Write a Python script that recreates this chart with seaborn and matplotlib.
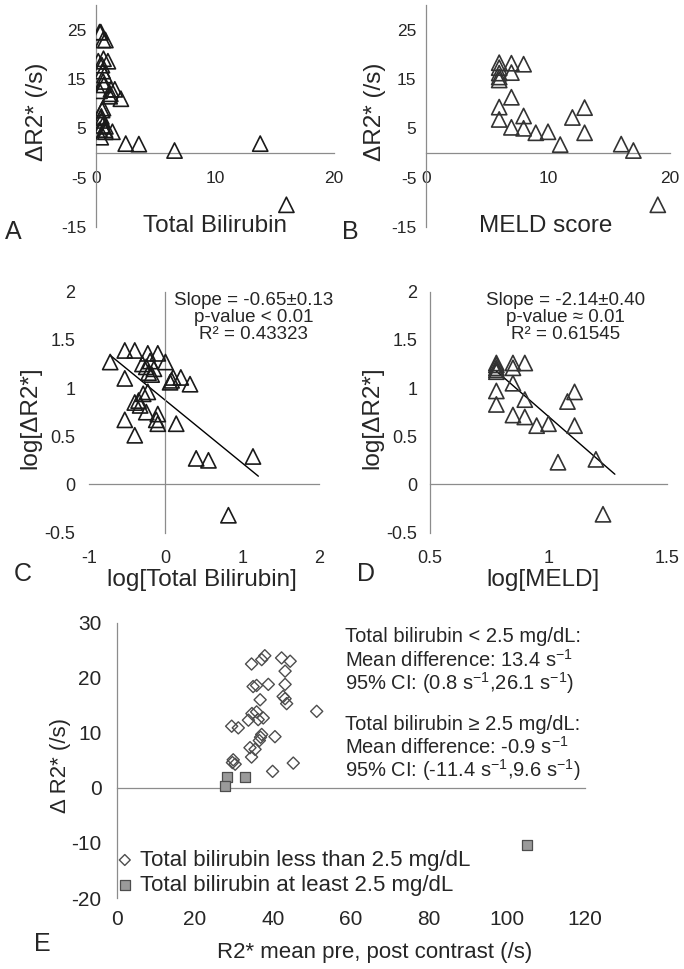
import numpy as np
import matplotlib
matplotlib.use("Agg")
import matplotlib.pyplot as plt
import seaborn as sns

# panel A: total bilirubin vs delta R2*
bili_a = [0.19, 0.30, 0.40, 0.59, 0.79, 0.50, 0.56, 0.63, 0.60, 1.00, 0.30, 1.26, 1.15, 1.58, 2.09,
          0.40, 0.51, 0.59, 0.47, 0.30, 0.56, 0.79, 0.79, 1.38, 0.40, 2.5, 3.6, 13.8, 6.6,
          0.71, 0.66, 0.45, 0.76, 1.20, 16.0]
dr2_a = [18.6, 24.5, 24.5, 22.9, 22.9, 17.8, 16.6, 19.1, 14.5, 18.6, 12.6, 12.9, 11.5, 12.9, 11.0,
         7.1, 8.7, 9.1, 6.6, 4.7, 5.6, 5.4, 4.3, 4.3, 3.2, 1.9, 1.8, 1.9, 0.5,
         15.8, 13.8, 7.4, 4.7, 12.0, -10.5]

# panel B: MELD score vs delta R2*
meld_b = [6, 6, 6, 6, 6, 7, 8, 7, 7, 6, 6, 7, 8, 8, 9, 10, 11, 12, 13, 13, 16, 17, 19]
dr2_b = [18.3, 17.3, 16.2, 15.4, 14.8, 18.2, 18.0, 16.3, 11.3, 9.3, 6.8, 5.2, 7.5, 5.0, 4.1, 4.3,
         1.7, 7.2, 9.2, 4.1, 1.8, 0.5, -10.5]

# panel C: log-log total bilirubin
logbili_c = [-0.72, -0.53, -0.40, -0.23, -0.10, -0.30, -0.25, -0.20, -0.22, 0.00, -0.53, 0.10, 0.06,
             0.20, 0.32, -0.40, -0.29, -0.23, -0.33, -0.53, -0.25, -0.10, -0.10, 0.14, -0.40, 0.40,
             0.56, 1.14, 0.82, -0.15, -0.18, -0.35, -0.12, 0.08]
logdr2_c = [1.27, 1.39, 1.39, 1.36, 1.36, 1.25, 1.22, 1.28, 1.16, 1.27, 1.10, 1.11, 1.06, 1.11, 1.04,
            0.85, 0.94, 0.96, 0.82, 0.67, 0.75, 0.73, 0.63, 0.63, 0.51, 0.27, 0.25, 0.29, -0.32,
            1.20, 1.14, 0.87, 0.67, 1.08]
fit_c = (-0.65, 0.872)  # slope, intercept

# panel D: log-log MELD
logmeld_d = [0.78, 0.78, 0.78, 0.78, 0.78, 0.85, 0.90, 0.85, 0.85, 0.78, 0.78, 0.85, 0.90, 0.90,
             0.95, 1.00, 1.04, 1.08, 1.11, 1.11, 1.20, 1.23]
logdr2_d = [1.26, 1.24, 1.21, 1.19, 1.17, 1.26, 1.26, 1.21, 1.05, 0.97, 0.83, 0.72, 0.88, 0.70,
            0.61, 0.63, 0.23, 0.86, 0.96, 0.61, 0.26, -0.31]
fit_d = (-2.14, 2.845)

# panel E: difference vs mean R2*
low_x = [34.5, 37.1, 37.9, 42.2, 44.4, 43.1, 34.9, 35.8, 38.8, 43.1, 36.7, 42.6, 43.1, 43.5, 51.2,
         35.8, 37.5, 36.2, 33.7, 29.4, 31.1, 37.1, 40.5, 36.5, 34.1, 35.4, 34.5, 29.8, 30.3, 45.2,
         39.9, 29.6, 36.8, 34.6]
low_y = [22.5, 23.3, 24.0, 23.6, 23.0, 21.2, 18.4, 18.6, 18.8, 18.8, 16.0, 16.6, 16.2, 15.3, 13.9,
         13.8, 12.7, 12.4, 12.3, 11.2, 10.9, 9.7, 9.3, 8.6, 7.3, 7.0, 5.6, 5.1, 4.3, 4.5,
         3.0, 4.6, 9.2, 13.5]
high_x = [28.1, 27.7, 32.8, 105.0]
high_y = [2.0, 0.4, 1.9, -10.3]

s1 = r"s$^{\mathregular{-1}}$"
info_lines = ["Total bilirubin < 2.5 mg/dL:",
              f"Mean difference: 13.4 {s1}",
              f"95% CI: (0.8 {s1},26.1 {s1})",
              "Total bilirubin ≥ 2.5 mg/dL:",
              f"Mean difference: -0.9 {s1}",
              f"95% CI: (-11.4 {s1},9.6 {s1})"]

sns.set_style("white")
plt.rcParams["font.family"] = ["Liberation Sans", "DejaVu Sans"]
plt.rcParams["mathtext.fontset"] = "custom"
plt.rcParams["mathtext.rm"] = "Liberation Sans"
plt.rcParams["axes.unicode_minus"] = False

TXT = "#262626"
AX = "#8c8c8c"
W, H = 684, 969

fig = plt.figure(figsize=(6.84, 9.69), dpi=100)


def make_axes(left, top, right, bottom):
    return fig.add_axes([left / W, 1 - bottom / H, (right - left) / W, (bottom - top) / H])


def style(ax, xspine, yspine, xpad, ypad, fs=12.5):
    ax.spines["top"].set_visible(False)
    ax.spines["right"].set_visible(False)
    for s in ("left", "bottom"):
        ax.spines[s].set_color(AX)
        ax.spines[s].set_linewidth(0.9)
    ax.spines["bottom"].set_position(("data", xspine))
    ax.spines["left"].set_position(("data", yspine))
    ax.tick_params(axis="both", direction="out", length=4, width=0.9, color=AX,
                   labelsize=fs, labelcolor=TXT)
    ax.tick_params(axis="x", pad=xpad)
    ax.tick_params(axis="y", pad=ypad)
    ax.set_xlabel("")
    ax.set_ylabel("")


def tri(ax, x, y, ec="#1a1a1a"):
    sns.scatterplot(x=x, y=y, ax=ax, marker="^", s=120, color="none",
                    edgecolor=ec, linewidth=1.2, zorder=3)


def set_labels(ax, xl, yl, xpos, ypos, fs=17.5):
    ax.set_xlabel(xl, fontsize=fs, color=TXT)
    ax.set_ylabel(yl, fontsize=fs, color=TXT)
    ax.xaxis.set_label_coords(*xpos)
    ax.yaxis.set_label_coords(*ypos)
    ax.yaxis.label.set_verticalalignment("center")


# ---- A ----
axA = make_axes(96, 5, 334, 227)
tri(axA, bili_a, dr2_a)
axA.set_xlim(0, 20)
axA.set_ylim(-15, 30)
axA.set_xticks([0, 10, 20])
axA.set_yticks([-15, -5, 5, 15, 25])
style(axA, 0, 0, 9, 3)
set_labels(axA, "Total Bilirubin", "ΔR2* (/s)", (0.5, 0.055), (-0.25, 0.52))

# ---- B ----
axB = make_axes(426, 5, 670, 227)
tri(axB, meld_b, dr2_b, ec="#333333")
axB.set_xlim(0, 20)
axB.set_ylim(-15, 30)
axB.set_xticks([0, 10, 20])
axB.set_yticks([-15, -5, 5, 15, 25])
style(axB, 0, 0, 9, 3)
set_labels(axB, "MELD score", "ΔR2* (/s)", (0.49, 0.055), (-0.21, 0.52))

# ---- C ----
axC = make_axes(88.7, 291.7, 319, 532.6)
tri(axC, logbili_c, logdr2_c)
xs = np.array([min(logbili_c), max(logbili_c) + 0.07])
axC.plot(xs, fit_c[1] + fit_c[0] * xs, color="black", lw=1, zorder=2)
axC.set_xlim(-1, 2)
axC.set_ylim(-0.5, 2)
axC.set_xticks([-1, 0, 1, 2])
axC.set_yticks([-0.5, 0, 0.5, 1, 1.5, 2])
axC.set_yticklabels(["-0.5", "0", "0.5", "1", "1.5", "2"])
style(axC, 0, 0, 43, 61, fs=13)
set_labels(axC, "log[Total Bilirubin]", "log[ΔR2*]", (0.49, -0.152), (-0.255, 0.476))
axC.text(0.715, 1.0, "Slope = -0.65±0.13\np-value < 0.01\nR² = 0.43323",
         transform=axC.transAxes, ha="center", va="top", fontsize=13.5, color=TXT,
         linespacing=1.02)

# ---- D ----
axD = make_axes(430, 291.7, 667, 532.6)
tri(axD, logmeld_d, logdr2_d, ec="#333333")
xs = np.array([min(logmeld_d), max(logmeld_d) + 0.05])
axD.plot(xs, fit_d[1] + fit_d[0] * xs, color="black", lw=1, zorder=2)
axD.set_xlim(0.5, 1.5)
axD.set_ylim(-0.5, 2)
axD.set_xticks([0.5, 1, 1.5])
axD.set_xticklabels(["0.5", "1", "1.5"])
axD.set_yticks([-0.5, 0, 0.5, 1, 1.5, 2])
axD.set_yticklabels(["-0.5", "0", "0.5", "1", "1.5", "2"])
style(axD, 0, 0.5, 43, 5, fs=13)
set_labels(axD, "log[MELD]", "log[ΔR2*]", (0.475, -0.152), (-0.245, 0.476))
axD.text(0.57, 1.0, "Slope = -2.14±0.40\np-value ≈ 0.01\nR² = 0.61545",
         transform=axD.transAxes, ha="center", va="top", fontsize=13.5, color=TXT,
         linespacing=1.02)

# ---- E ----
axE = make_axes(117, 622.7, 585, 898)
sns.scatterplot(x=low_x, y=low_y, ax=axE, marker="D", s=38, color="none",
                edgecolor="#4d4d4d", linewidth=1.0, zorder=3,
                label="Total bilirubin less than 2.5 mg/dL")
sns.scatterplot(x=high_x, y=high_y, ax=axE, marker="s", s=60, color="#9a9a9a",
                edgecolor="#4d4d4d", linewidth=0.9, zorder=4,
                label="Total bilirubin at least 2.5 mg/dL")
axE.set_xlim(0, 120)
axE.set_ylim(-20, 30)
axE.set_xticks(range(0, 121, 20))
axE.set_yticks(range(-20, 31, 10))
style(axE, 0, 0, 84, 7, fs=15)
set_labels(axE, "R2* mean pre, post contrast (/s)", "Δ R2* (/s)", (0.55, -0.16), (-0.12, 0.48),
           fs=16)
axE.legend(loc="upper left", bbox_to_anchor=(0.0, 0.175), frameon=False, fontsize=16,
           handlelength=0.7, handletextpad=0.35, borderpad=0, labelspacing=0.2,
           borderaxespad=0, markerscale=0.9, labelcolor=TXT)
# stats block, one text per line so the spacing stays even
line_y = [637, 660, 683, 724, 747, 770]
for txt, py in zip(info_lines, line_y):
    axE.text(0.487, (898 - py) / 275.3, txt, ha="left", va="center", fontsize=14.5, color=TXT,
             transform=axE.transAxes)

# panel letters
for letter, (px, py) in {"A": (13, 232), "B": (350, 232), "C": (23, 574),
                         "D": (366, 574), "E": (42, 944)}.items():
    fig.text(px / W, 1 - py / H, letter, fontsize=18, color=TXT, ha="center", va="center")

fig.savefig("out.png", dpi=100)
